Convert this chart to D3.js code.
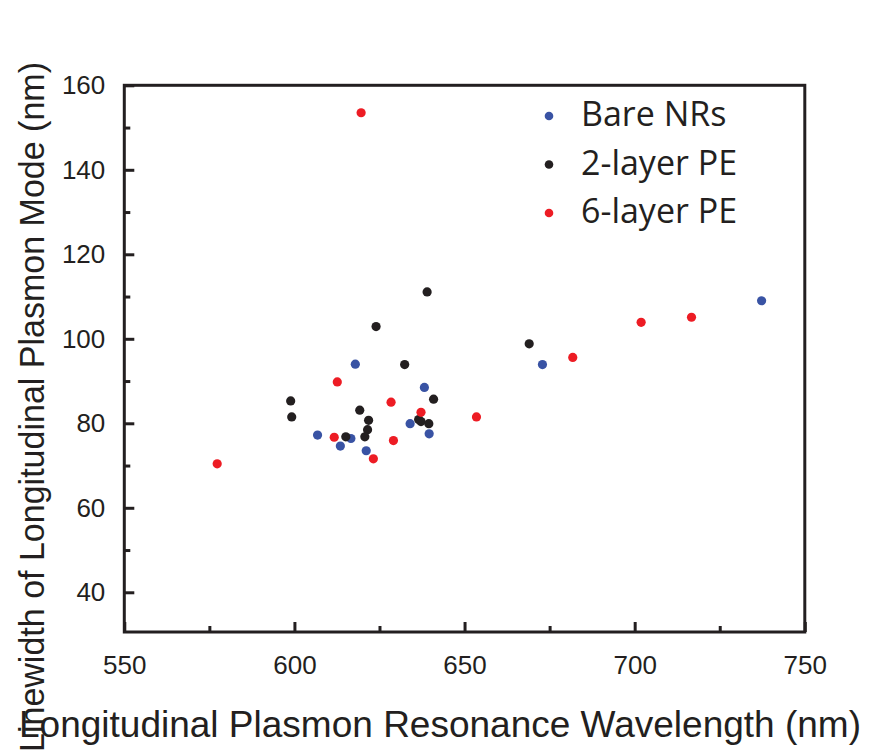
<!DOCTYPE html>
<html>
<head>
<meta charset="utf-8">
<script src="https://cdn.jsdelivr.net/npm/d3@7"></script>
<style>
  body { margin: 0; background: #fff; }
  svg { display: block; }
</style>
</head>
<body>
<div id="chart"></div>
<script>
// ---- data ----
const bareX = [617.9, 638.2, 634.0, 639.6, 606.8, 616.6, 613.5, 621.1, 672.9, 737.3];
const bareY = [94.0, 88.5, 79.9, 77.5, 77.2, 76.4, 74.6, 73.5, 93.9, 109.0];

const twoLayerX = [624.0, 632.4, 598.9, 640.9, 619.2, 599.2, 621.8, 636.5, 637.2, 639.5, 621.5, 620.7, 615.1, 669.0, 639.0];
const twoLayerY = [102.9, 93.9, 85.3, 85.7, 83.1, 81.5, 80.7, 80.9, 80.4, 79.9, 78.5, 76.8, 76.8, 98.8, 111.1];

const sixLayerX = [619.6, 577.3, 612.6, 628.4, 637.2, 653.5, 611.7, 629.1, 623.2, 681.8, 701.9, 716.7];
const sixLayerY = [153.5, 70.4, 89.8, 85.0, 82.6, 81.5, 76.7, 75.9, 71.6, 95.6, 103.9, 105.1];

const seriesNames = ["Bare NRs", "2-layer PE", "6-layer PE"];
const seriesColors = ["#3953a4", "#231f20", "#ed1c24"];

const xMajor = [550, 600, 650, 700, 750];
const xMinor = [575, 625, 675, 725];
const yMajor = [40, 60, 80, 100, 120, 140, 160];
const yMinor = [50, 70, 90, 110, 130, 150];

const xLabel = "Longitudinal Plasmon Resonance Wavelength (nm)";
const yLabel = "Linewidth of Longitudinal Plasmon Mode (nm)";

// ---- layout ----
const width = 879, height = 755;
const ink = "#231f20";

const x = d3.scaleLinear([550, 750], [124.3, 804.8]);
const y = d3.scaleLinear([30.6, 160], [632, 85.3]);

const svg = d3.select("#chart").append("svg")
  .attr("width", width)
  .attr("height", height);

// major / minor ticks, inward
function styleAxis(g) {
  g.select(".domain").remove();
  g.selectAll(".tick line").attr("stroke", ink).attr("stroke-width", 3);
  g.selectAll(".tick text")
    .attr("fill", ink)
    .attr("font-family", "Liberation Sans, Arial, sans-serif")
    .attr("font-size", 26);
}

svg.append("g")
  .attr("transform", `translate(0,${y.range()[0]})`)
  .call(d3.axisBottom(x).tickValues(xMajor).tickSize(-10).tickPadding(24).tickFormat(d3.format("d")))
  .call(styleAxis);

svg.append("g")
  .attr("transform", `translate(0,${y.range()[0]})`)
  .call(d3.axisBottom(x).tickValues(xMinor).tickSize(-6).tickFormat(""))
  .call(styleAxis);

svg.append("g")
  .attr("transform", `translate(${x.range()[0]},0)`)
  .call(d3.axisLeft(y).tickValues(yMajor).tickSize(-10).tickPadding(19).tickFormat(d3.format("d")))
  .call(styleAxis);

svg.append("g")
  .attr("transform", `translate(${x.range()[0]},0)`)
  .call(d3.axisLeft(y).tickValues(yMinor).tickSize(-6).tickFormat(""))
  .call(styleAxis);

// frame
svg.append("rect")
  .attr("x", x.range()[0])
  .attr("y", y.range()[1])
  .attr("width", x.range()[1] - x.range()[0])
  .attr("height", y.range()[0] - y.range()[1])
  .attr("fill", "none")
  .attr("stroke", ink)
  .attr("stroke-width", 3);

// points
const series = [
  { name: seriesNames[0], color: seriesColors[0], xs: bareX, ys: bareY },
  { name: seriesNames[1], color: seriesColors[1], xs: twoLayerX, ys: twoLayerY },
  { name: seriesNames[2], color: seriesColors[2], xs: sixLayerX, ys: sixLayerY },
];

series.forEach((s) => {
  svg.append("g")
    .selectAll("circle")
    .data(s.xs.map((d, i) => [d, s.ys[i]]))
    .join("circle")
    .attr("cx", (d) => x(d[0]))
    .attr("cy", (d) => y(d[1]))
    .attr("r", 4.6)
    .attr("fill", s.color);
});

// legend
const legend = svg.append("g").attr("transform", "translate(549,116)");
const row = legend.selectAll("g")
  .data(series)
  .join("g")
  .attr("transform", (d, i) => `translate(0,${i * 48.5})`);

row.append("circle")
  .attr("r", 4.3)
  .attr("fill", (d) => d.color);

row.append("text")
  .attr("x", 32)
  .attr("y", 10)
  .attr("fill", ink)
  .attr("font-family", "Open Sans, Noto Sans, sans-serif")
  .attr("font-size", 34)
  .text((d) => d.name);

// axis titles
svg.append("text")
  .attr("x", 440)
  .attr("y", 737)
  .attr("text-anchor", "middle")
  .attr("fill", ink)
  .attr("font-family", "Liberation Sans, Arial, sans-serif")
  .attr("font-size", 36)
  .attr("textLength", 842)
  .attr("lengthAdjust", "spacingAndGlyphs")
  .text(xLabel);

svg.append("text")
  .attr("transform", "translate(44,407) rotate(-90)")
  .attr("text-anchor", "middle")
  .attr("fill", ink)
  .attr("font-family", "Liberation Sans, Arial, sans-serif")
  .attr("font-size", 35)
  .attr("textLength", 690)
  .attr("lengthAdjust", "spacingAndGlyphs")
  .text(yLabel);
</script>
</body>
</html>
